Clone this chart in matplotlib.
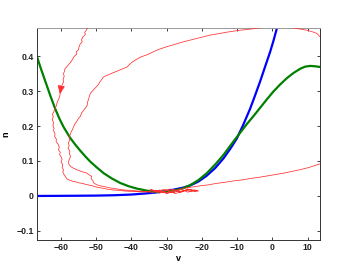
import matplotlib
matplotlib.use("Agg")
import matplotlib.pyplot as plt

# Blue curve
blue_v = [-66.7, -60, -55, -50, -45, -40, -36, -33, -30, -27.5, -25.2, -23.3, -21.0, -18.6, -16.2, -13.9, -12.0, -10.1, -8.2, -6.3, -4.9, -3.5, -2.1, -0.65, 0.3, 1.25, 2.0]
blue_n = [0.0, 0.0003, 0.0006, 0.001, 0.002, 0.004, 0.007, 0.010, 0.014, 0.019, 0.024, 0.030, 0.041, 0.058, 0.080, 0.107, 0.134, 0.164, 0.205, 0.250, 0.288, 0.327, 0.369, 0.412, 0.444, 0.479, 0.51]

# Green curve
green_v = [-66.7, -65.8, -64.8, -63.8, -62.9, -61.5, -60.3, -59.1, -57.3, -55.8, -54.4, -53.0, -51.6, -49.7, -47.8, -45.5, -43.1, -40.8, -38.4, -35.5, -33.0, -30.5, -28.0, -25.5, -23.3, -21.0, -18.6, -16.2, -13.9, -11.1, -9.2, -7.3, -5.4, -3.5, -1.6, 0.3, 2.2, 4.1, 6.0, 7.9, 9.3, 10.7, 12.0, 13.5]
green_n = [0.398, 0.370, 0.341, 0.312, 0.286, 0.248, 0.220, 0.196, 0.166, 0.146, 0.129, 0.113, 0.098, 0.081, 0.065, 0.050, 0.037, 0.028, 0.021, 0.015, 0.012, 0.012, 0.015, 0.021, 0.031, 0.045, 0.065, 0.090, 0.117, 0.155, 0.180, 0.205, 0.228, 0.252, 0.276, 0.299, 0.319, 0.337, 0.352, 0.364, 0.370, 0.372, 0.371, 0.369]

# Red stochastic trajectory (point by point)
red_pts = [
    (-51.5, 0.50), (-52.3, 0.483), (-52.6, 0.476), (-53.2, 0.468), (-53.0, 0.462), (-53.7, 0.455), (-54.1, 0.447), (-53.9, 0.441),
    (-54.5, 0.434), (-54.8, 0.426), (-55.0, 0.418), (-55.6, 0.412), (-55.5, 0.405), (-56.2, 0.399), (-56.6, 0.392), (-56.9, 0.386),
    (-57.4, 0.380), (-57.9, 0.374), (-58.3, 0.369), (-58.8, 0.364), (-58.9, 0.357), (-59.2, 0.350), (-59.0, 0.342), (-59.3, 0.334),
    (-59.2, 0.326), (-59.6, 0.318), (-59.8, 0.310), (-59.7, 0.302), (-60.1, 0.294), (-60.3, 0.284), (-60.6, 0.276), (-61.0, 0.268),
    (-61.2, 0.258), (-61.6, 0.250), (-61.9, 0.242), (-62.3, 0.234), (-62.1, 0.226), (-62.4, 0.218), (-62.0, 0.210), (-62.2, 0.202),
    (-61.9, 0.194), (-62.0, 0.186), (-61.6, 0.178), (-61.7, 0.170), (-61.2, 0.162), (-61.3, 0.155), (-60.7, 0.148), (-60.4, 0.140),
    (-60.6, 0.132), (-60.1, 0.125), (-60.3, 0.118), (-59.8, 0.111), (-59.6, 0.104), (-59.9, 0.097), (-59.4, 0.090), (-59.6, 0.082),
    (-59.2, 0.075), (-59.4, 0.068), (-59.0, 0.061), (-58.6, 0.054), (-58.1, 0.048), (-57.4, 0.045), (-56.6, 0.042), (-55.6, 0.040),
    (-54.6, 0.037), (-53.8, 0.036), (-52.9, 0.033), (-52.0, 0.031), (-51.0, 0.029), (-50.1, 0.026), (-49.2, 0.024), (-48.0, 0.022),
    (-46.6, 0.019), (-45.0, 0.017), (-43.5, 0.016), (-41.8, 0.014), (-40.0, 0.013), (-38.0, 0.012), (-36.0, 0.011),
    (-34.0, 0.015), (-32.0, 0.008), (-30.0, 0.016), (-28.0, 0.009), (-26.0, 0.019), (-24.0, 0.011), (-22.0, 0.017), (-21.0, 0.014),
    (-23.5, 0.019), (-26.5, 0.012), (-29.0, 0.020), (-31.5, 0.011), (-34.5, 0.018), (-32.5, 0.013), (-29.5, 0.008), (-27.0, 0.017),
    (-25.0, 0.022),
    (-22.5, 0.026), (-20.5, 0.029), (-18.0, 0.032), (-15.8, 0.036), (-13.5, 0.039), (-11.0, 0.043), (-8.5, 0.046), (-6.3, 0.050),
    (-4.0, 0.053), (-1.6, 0.057), (0.8, 0.061), (3.1, 0.065), (5.5, 0.070), (7.8, 0.075), (10.2, 0.081), (12.6, 0.089), (16.0, 0.10),
    (25.0, 0.25), (16.0, 0.44),
    (13.5, 0.455), (12.6, 0.465), (11.2, 0.470), (9.8, 0.474), (7.0, 0.479), (5.0, 0.482), (1.0, 0.49), (-3.5, 0.481), (-6.5, 0.477),
    (-9.2, 0.474), (-12.0, 0.470), (-14.8, 0.465), (-17.7, 0.460), (-20.5, 0.453), (-22.8, 0.447), (-25.2, 0.441), (-27.5, 0.434),
    (-29.9, 0.427), (-32.3, 0.419), (-34.0, 0.411), (-35.5, 0.404), (-37.2, 0.398), (-38.5, 0.391), (-39.6, 0.384), (-40.4, 0.377),
    (-41.2, 0.369), (-42.6, 0.363), (-44.0, 0.357), (-45.3, 0.352), (-46.6, 0.346), (-47.8, 0.341), (-48.3, 0.334), (-48.9, 0.326),
    (-49.3, 0.319), (-49.9, 0.312), (-50.5, 0.306), (-51.0, 0.300), (-51.6, 0.293), (-51.9, 0.284), (-52.1, 0.276), (-52.4, 0.268),
    (-52.5, 0.258), (-53.1, 0.250), (-53.6, 0.243), (-54.1, 0.237), (-54.4, 0.228), (-55.0, 0.221), (-55.4, 0.214), (-55.9, 0.207),
    (-56.3, 0.199), (-56.6, 0.191), (-57.0, 0.184), (-57.3, 0.176), (-57.6, 0.168), (-57.4, 0.160), (-57.8, 0.152), (-57.6, 0.144),
    (-57.9, 0.136), (-57.4, 0.128), (-57.5, 0.120), (-57.2, 0.112), (-57.6, 0.104), (-57.8, 0.096), (-57.6, 0.089), (-57.0, 0.083),
    (-56.3, 0.079), (-55.4, 0.075), (-54.4, 0.071), (-53.4, 0.068), (-52.5, 0.065), (-51.9, 0.060), (-51.2, 0.056), (-51.4, 0.050),
    (-50.9, 0.044), (-50.6, 0.037), (-49.8, 0.032), (-48.8, 0.029), (-47.8, 0.027), (-46.0, 0.023), (-44.0, 0.020), (-42.1, 0.017),
    (-40.0, 0.016), (-38.0, 0.014), (-36.0, 0.013), (-34.0, 0.010), (-32.0, 0.017), (-30.0, 0.007), (-28.0, 0.018), (-26.0, 0.010),
    (-24.0, 0.020), (-22.5, 0.015), (-21.5, 0.012), (-24.5, 0.016), (-27.5, 0.007), (-30.5, 0.019), (-33.5, 0.012),
]
red_v = [p[0] for p in red_pts]
red_n = [p[1] for p in red_pts]

x_ticks = [-60, -50, -40, -30, -20, -10, 0, 10]
y_ticks = [-0.1, 0, 0.1, 0.2, 0.3, 0.4]
x_label = "v"
y_label = "n"

plt.rcParams['font.family'] = ['Liberation Sans', 'DejaVu Sans']

fig = plt.figure(figsize=(3.46, 2.77), dpi=100)
ax = fig.add_axes([0.107, 0.1336, 0.817, 0.766])

ax.plot(red_v, red_n, color='#ff3030', lw=0.55, zorder=3)
ax.plot(blue_v, blue_n, color='#0000ff', lw=1.6, zorder=2, solid_joinstyle='round')
ax.plot(green_v, green_n, color='#008000', lw=1.6, zorder=2.5, solid_joinstyle='round')
ax.annotate('', xy=(-60.4, 0.284), xytext=(-60.0, 0.305),
            arrowprops=dict(arrowstyle='-|>,head_length=0.5,head_width=0.22', color='#ff3030', lw=0.6),
            zorder=4)

ax.set_xlim(-66.7, 13.4)
ax.set_ylim(-0.126, 0.481)
ax.set_xticks(x_ticks)
ax.set_yticks(y_ticks)
ax.set_xticklabels([str(t) if t >= 0 else '\u2212' + str(-t) for t in x_ticks])
ax.set_yticklabels(['\u22120.1', '0', '0.1', '0.2', '0.3', '0.4'])
ax.tick_params(direction='in', length=2.5, width=0.6, top=True, right=True,
               labelsize=6.3, colors='#222222', pad=2.5)
for lab in ax.get_xticklabels() + ax.get_yticklabels():
    lab.set_fontweight('bold')
for s in ['left', 'bottom', 'right']:
    ax.spines[s].set_color('#333333')
    ax.spines[s].set_linewidth(0.7)
ax.spines['top'].set_color('#999999')
ax.spines['top'].set_linewidth(0.7)
ax.set_xlabel(x_label, fontsize=6.5, fontweight='bold', labelpad=1)
ax.set_ylabel(y_label, fontsize=6.5, fontweight='bold', labelpad=4)

fig.savefig('out.png', dpi=100)
